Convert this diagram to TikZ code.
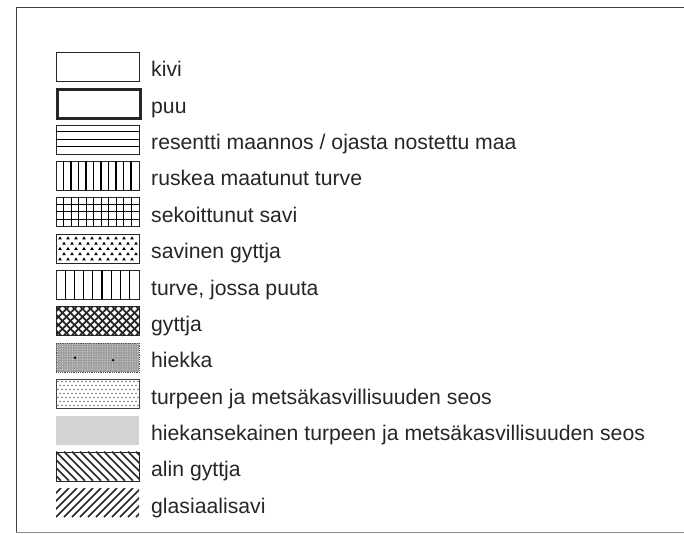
\documentclass[tikz,border=0pt]{standalone}
\usepackage{fontspec}
\setmainfont{Liberation Sans}

\begin{document}
\begin{tikzpicture}[x=1pt,y=-1pt,
  swatch/.style={draw=black!85,line width=0.8pt,minimum width=83pt,minimum height=29pt,inner sep=0pt,anchor=north west},
  legtext/.style={anchor=base west,inner sep=0pt,text=black!85,font=\fontsize{21.2}{24}\selectfont},
  hatch/.style={line width=1.5pt,black!85}]
\useasboundingbox (0,0) rectangle (684,534);
% frame
\draw[black!75,line width=1pt] (684,8) -- (16,8) -- (16,532);
\draw[black!45,line width=1pt] (16,532) -- (684,532);

% swatches
\node[swatch] (kivi) at (56,52) {};
\node[swatch,line width=3pt] (puu) at (56,88.3) {};
\node[swatch] (maa) at (56,124.7) {};
\node[swatch] (ruskea) at (56,161) {};
\node[swatch] (savi) at (56,197.3) {};
\node[swatch] (savgyt) at (56,233.7) {};
\node[swatch] (turve) at (56,270) {};
\node[swatch] (gyttja) at (56,306.3) {};
\node[swatch,fill=black!38,draw=black!70,densely dotted] (hiekka) at (56,342.7) {};
\node[swatch,draw=black!75] (seos) at (56,379) {};
\node[swatch,draw=none,fill=black!17] (hseos) at (56,415.3) {};
\node[swatch] (alin) at (56,451.7) {};
\node[swatch,draw=none] (glasi) at (56,488) {};

% labels
\node[legtext] (tkivi) at (151,77) {kivi};
\node[legtext] (tpuu) at (151,113.3) {puu};
\node[legtext] (tmaa) at (151,149.7) {resentti maannos / ojasta nostettu maa};
\node[legtext] (truskea) at (151,186) {ruskea maatunut turve};
\node[legtext] (tsavi) at (151,222.3) {sekoittunut savi};
\node[legtext] (tsavgyt) at (151,258.7) {savinen gyttja};
\node[legtext] (tturve) at (151,295) {turve, jossa puuta};
\node[legtext] (tgyttja) at (151,331.3) {gyttja};
\node[legtext] (thiekka) at (151,367.7) {hiekka};
\node[legtext] (tseos) at (151,404) {turpeen ja metsäkasvillisuuden seos};
\node[legtext] (thseos) at (151,440.3) {hiekansekainen turpeen ja metsäkasvillisuuden seos};
\node[legtext] (talin) at (151,476.7) {alin gyttja};
\node[legtext] (tglasi) at (151,513) {glasiaalisavi};

% fillings
\begin{scope}[shift={(maa.north west)}]
\foreach \y in {7.25,14.5,21.75} \draw[line width=1pt] (0,\y) -- (83,\y);
\end{scope}
\begin{scope}[shift={(ruskea.north west)}]
\foreach \x in {7.5,15,...,75} \draw[line width=1.3pt] (\x,0) -- (\x,29);
\end{scope}
\begin{scope}[shift={(savi.north west)}]
\foreach \x in {7.5,15,...,75} \draw[line width=0.9pt] (\x,0) -- (\x,29);
\foreach \y in {7.25,14.5,21.75} \draw[line width=0.9pt] (0,\y) -- (83,\y);
\end{scope}
\begin{scope}[shift={(savgyt.north west)}]
\foreach \y in {4.5,15,25.5} \foreach \x in {4,12,...,76}
  \fill (\x,\y) ++(-1.8,1.2) -- ++(3.6,0) -- ++(-1.8,-3) -- cycle;
\foreach \y in {9.75,20.25} \foreach \x in {8,16,...,80}
  \fill (\x,\y) ++(-1.8,1.2) -- ++(3.6,0) -- ++(-1.8,-3) -- cycle;
\end{scope}
\begin{scope}[shift={(turve.north west)}]
\foreach \x in {9.2,18.4,...,74} \draw[line width=1.1pt] (\x,0) -- (\x,29);
\end{scope}
\begin{scope}[shift={(gyttja.north west)}]
\clip (0,0) rectangle (83,29);
\foreach \x in {-32,-24,...,88} {
  \draw[hatch,line width=1.7pt] (\x,0) -- ++(29,29);
  \draw[hatch,line width=1.7pt] (\x,29) -- ++(29,-29);
}
\end{scope}
\begin{scope}[shift={(hiekka.north west)}]
\foreach \x in {1.5,4,...,81.5} \foreach \y in {1.5,4,...,27.5}
  \fill[black!15] (\x,\y) circle (0.55);
\fill (19,15) circle (1.3);
\fill (57,17.5) circle (1.3);
\end{scope}
\begin{scope}[shift={(seos.north west)}]
\foreach \y in {2.5,10.5,18.5,26.5} \foreach \x in {2,6,...,82}
  \fill[black!55] (\x,\y) circle (0.95);
\foreach \y in {6.5,14.5,22.5} \foreach \x in {4,8,...,80}
  \fill[black!55] (\x,\y) circle (0.95);
\end{scope}
\begin{scope}[shift={(alin.north west)}]
\clip (0,0) rectangle (83,29);
\foreach \x in {-32,-24,...,88} \draw[hatch] (\x,0) -- ++(29,29);
\end{scope}
\begin{scope}[shift={(glasi.north west)}]
\clip (0,0) rectangle (83,29);
\foreach \x in {-32,-24,...,88} \draw[hatch,line width=1.7pt] (\x,29) -- ++(29,-29);
\end{scope}
\end{tikzpicture}
\end{document}
